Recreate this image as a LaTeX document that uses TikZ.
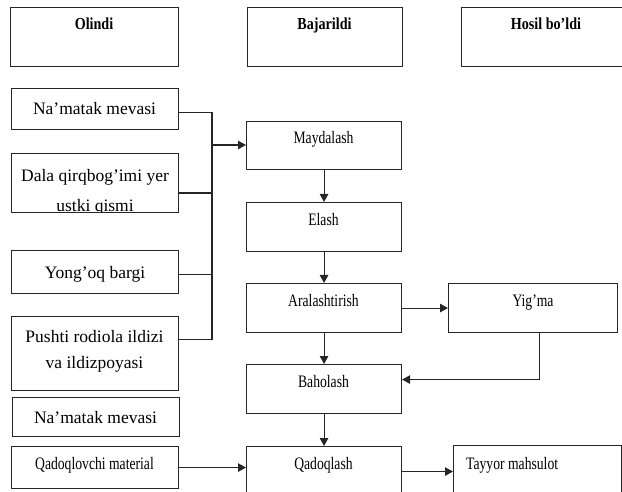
\documentclass[tikz,border=0pt]{standalone}
\usepackage{fontspec}
\setmainfont{Liberation Serif}
\newfontfamily\condensed{Liberation Serif}[FakeStretch=0.78]
\newfontfamily\headfont{Liberation Serif}[FakeStretch=0.84]
\usetikzlibrary{arrows.meta}

\begin{document}
\begin{tikzpicture}[x=1pt,y=-1pt,
  box/.style={draw=black!85, line width=1.1pt, inner sep=0pt, anchor=north west},
  headtxt/.style={anchor=base, inner sep=0pt, font=\headfont\bfseries\fontsize{16.8}{19}\selectfont},
  bigtxt/.style={anchor=base, inner sep=0pt, font=\fontsize{17.5}{26}\selectfont},
  steptxt/.style={anchor=base, inner sep=0pt, font=\condensed\fontsize{17.5}{20}\selectfont},
  link/.style={draw=black!85, line width=1.1pt},
  arr/.style={link, -{Triangle[length=8pt,width=8.5pt]}}
]
\useasboundingbox (0,0) rectangle (622,492);
\clip (0,0) rectangle (622,492);

% column headers
\node[box, minimum width=168pt, minimum height=59pt] (hIn) at (10,7) {};
\node[headtxt] (hInT) at (94,30) {Olindi};
\node[box, minimum width=155pt, minimum height=59pt] (hDo) at (247,7) {};
\node[headtxt] (hDoT) at (324.5,30) {Bajarildi};
\node[box, minimum width=170pt, minimum height=59pt] (hOut) at (461,7) {};
\node[headtxt] (hOutT) at (546,30) {Hosil bo’ldi};

% raw materials
\node[box, minimum width=167pt, minimum height=41pt] (n1) at (11,88) {};
\node[bigtxt] (n1T) at (94.5,114.3) {Na’matak mevasi};

\node[box, minimum width=167pt, minimum height=59pt,
  path picture={
    \node[bigtxt] (dalaA) at ([yshift=-28pt]path picture bounding box.north) {Dala qirqbog’imi yer};
    \node[bigtxt] (dalaB) at ([yshift=-58pt]path picture bounding box.north) {ustki qismi};
  }] (dala) at (11,153) {};

\node[box, minimum width=167pt, minimum height=43pt] (yong) at (11,250) {};
\node[bigtxt] (yongT) at (95,279) {Yong’oq bargi};

\node[box, minimum width=167pt, minimum height=74pt] (push) at (11,316) {};
\node[bigtxt] (pushA) at (94.5,342) {Pushti rodiola ildizi};
\node[bigtxt] (pushB) at (94.5,368) {va ildizpoyasi};

\node[box, minimum width=167pt, minimum height=39pt] (n2) at (12,397) {};
\node[bigtxt] (n2T) at (95.5,423) {Na’matak mevasi};

\node[box, minimum width=167pt, minimum height=42pt] (qm) at (11,446) {};
\node[steptxt] (qmT) at (94.5,469) {Qadoqlovchi material};

% process steps
\node[box, minimum width=155pt, minimum height=48pt] (may) at (246,121) {};
\node[steptxt] (mayT) at (323.5,144) {Maydalash};
\node[box, minimum width=155pt, minimum height=49pt] (ela) at (246,202) {};
\node[steptxt] (elaT) at (323.5,225.5) {Elash};
\node[box, minimum width=155pt, minimum height=49pt] (ara) at (246,283) {};
\node[steptxt] (araT) at (323.5,306.7) {Aralashtirish};
\node[box, minimum width=155pt, minimum height=49pt] (bah) at (246,364) {};
\node[steptxt] (bahT) at (323.5,387.5) {Baholash};
\node[box, minimum width=155pt, minimum height=50pt] (qad) at (246,446) {};
\node[steptxt] (qadT) at (323.5,469) {Qadoqlash};

% results
\node[box, minimum width=169pt, minimum height=49pt] (yig) at (448,283) {};
\node[steptxt] (yigT) at (533,306.7) {Yig’ma};
\node[box, minimum width=168pt, minimum height=50pt] (tay) at (453,445) {};
\node[steptxt, anchor=base west] (tayT) at (466,469) {Tayyor mahsulot};

% collecting bus of the raw materials
\coordinate (jn) at (212,145);
\draw[link] ([yshift=-3.5pt]n1.east) -| (jn);
\draw[link] ([yshift=-10pt]dala.east) -| (jn);
\draw[link] ([yshift=-2.5pt]yong.east) -| (jn);
\draw[link] ([yshift=14pt]push.east) -| (jn);
\draw[arr] (jn) -- (jn -| may.west);

% main flow
\draw[arr] (may) -- (ela);
\draw[arr] (ela) -- (ara);
\draw[arr] (ara) -- (bah);
\draw[arr] (bah) -- (qad);
\draw[arr] (ara.east) -- (ara.east -| yig.west);
\draw[arr] ([xshift=6.5pt]yig.south) |- ([yshift=9.5pt]bah.east);
\draw[arr] (qm.east) -- (qm.east -| qad.west);
\draw[arr] (qad.east) -- (qad.east -| tay.west);
\end{tikzpicture}
\end{document}
